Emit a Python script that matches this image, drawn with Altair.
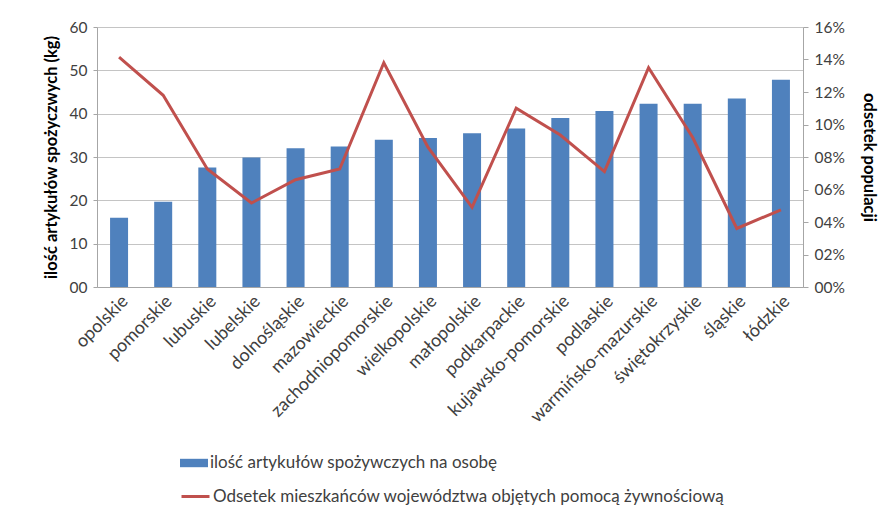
import altair as alt
import pandas as pd

regions = ["opolskie", "pomorskie", "lubuskie", "lubelskie", "dolnośląskie", "mazowieckie",
           "zachodniopomorskie", "wielkopolskie", "małopolskie", "podkarpackie",
           "kujawsko-pomorskie", "podlaskie", "warmińsko-mazurskie", "świętokrzyskie",
           "śląskie", "łódzkie"]
kg = [16.0, 19.7, 27.6, 29.9, 32.0, 32.4, 34.0, 34.4, 35.5, 36.6, 39.0, 40.6, 42.3, 42.3, 43.5, 47.8]
pct = [0.1415, 0.118, 0.0726, 0.0517, 0.066, 0.0726, 0.138, 0.086, 0.049, 0.110, 0.0935,
       0.071, 0.135, 0.092, 0.036, 0.0475]

bar_name = "ilość artykułów spożywczych na osobę"
line_name = "Odsetek mieszkańców województwa objętych pomocą żywnościową"

df = pd.DataFrame({"region": regions, "kg": kg, "pct": pct,
                   "bs": [bar_name] * len(regions), "ls": [line_name] * len(regions)})

FONT = "Lato"
LBL = "#404040"

x = alt.X("region:N", sort=regions, title=None,
          scale=alt.Scale(paddingInner=0.6, paddingOuter=0.3),
          axis=alt.Axis(labelAngle=-45, labelAlign="right", labelBaseline="top",
                        labelFontSize=18, labelColor=LBL, labelFont=FONT, ticks=False,
                        domainColor="#A6A6A6", labelPadding=5, labelLimit=0))

bars = alt.Chart(df).mark_bar(size=18).encode(
    x=x,
    y=alt.Y("kg:Q", scale=alt.Scale(domain=[0, 60]),
            title="ilość artykułów spożyczwych (kg)",
            axis=alt.Axis(values=[0, 10, 20, 30, 40, 50, 60], format="02d",
                          labelFontSize=15.5, labelColor=LBL, labelFont=FONT,
                          gridColor="#C4C4C4", domainColor="#A6A6A6", tickColor="#A6A6A6",
                          tickSize=4, titleFontSize=16.5, titleFont=FONT, titleFontWeight="bold",
                          titleColor="black", titlePadding=10, labelPadding=6)),
    fill=alt.Fill("bs:N", scale=alt.Scale(domain=[bar_name], range=["#4F81BD"]),
                  legend=alt.Legend(title=None, orient="none", legendX=83, legendY=422,
                                    symbolType="M-1,-0.3H1V0.3H-1Z", symbolSize=784,
                                    symbolStrokeWidth=0, labelFontSize=17, labelFont=FONT,
                                    labelColor=LBL, labelOffset=2, labelLimit=0))
)

line = alt.Chart(df).mark_line(strokeWidth=3).encode(
    x=x,
    y=alt.Y("pct:Q", scale=alt.Scale(domain=[0, 0.16]), title="odsetek populacji",
            axis=alt.Axis(orient="right", values=[0, 0.02, 0.04, 0.06, 0.08, 0.10, 0.12, 0.14, 0.16],
                          labelExpr="datum.value < 0.095 ? '0' + format(datum.value, '.0%') : format(datum.value, '.0%')",
                          grid=False, labelFontSize=15.5, labelColor=LBL, labelFont=FONT,
                          domainColor="#A6A6A6", tickColor="#A6A6A6", tickSize=5,
                          titleFontSize=16.5, titleFont=FONT, titleFontWeight="bold",
                          titleColor="black", titlePadding=16, labelPadding=6)),
    stroke=alt.Stroke("ls:N", scale=alt.Scale(domain=[line_name], range=["#C0504D"]),
                      legend=alt.Legend(title=None, orient="none", legendX=83, legendY=454,
                                        symbolType="stroke", symbolSize=784,
                                        symbolStrokeWidth=3, labelFontSize=17, labelFont=FONT,
                                        labelColor=LBL, labelOffset=2, labelLimit=0))
)

chart = alt.layer(bars, line).resolve_scale(y="independent", fill="independent",
                                            stroke="independent").properties(
    width=706, height=260,
    autosize=alt.AutoSizeParams(type="none"),
    padding={"left": 97, "top": 27, "right": 85, "bottom": 224},
    background="white",
).configure_view(stroke=None)

chart.save("out.html", embed_options={"renderer": "svg", "actions": False})
